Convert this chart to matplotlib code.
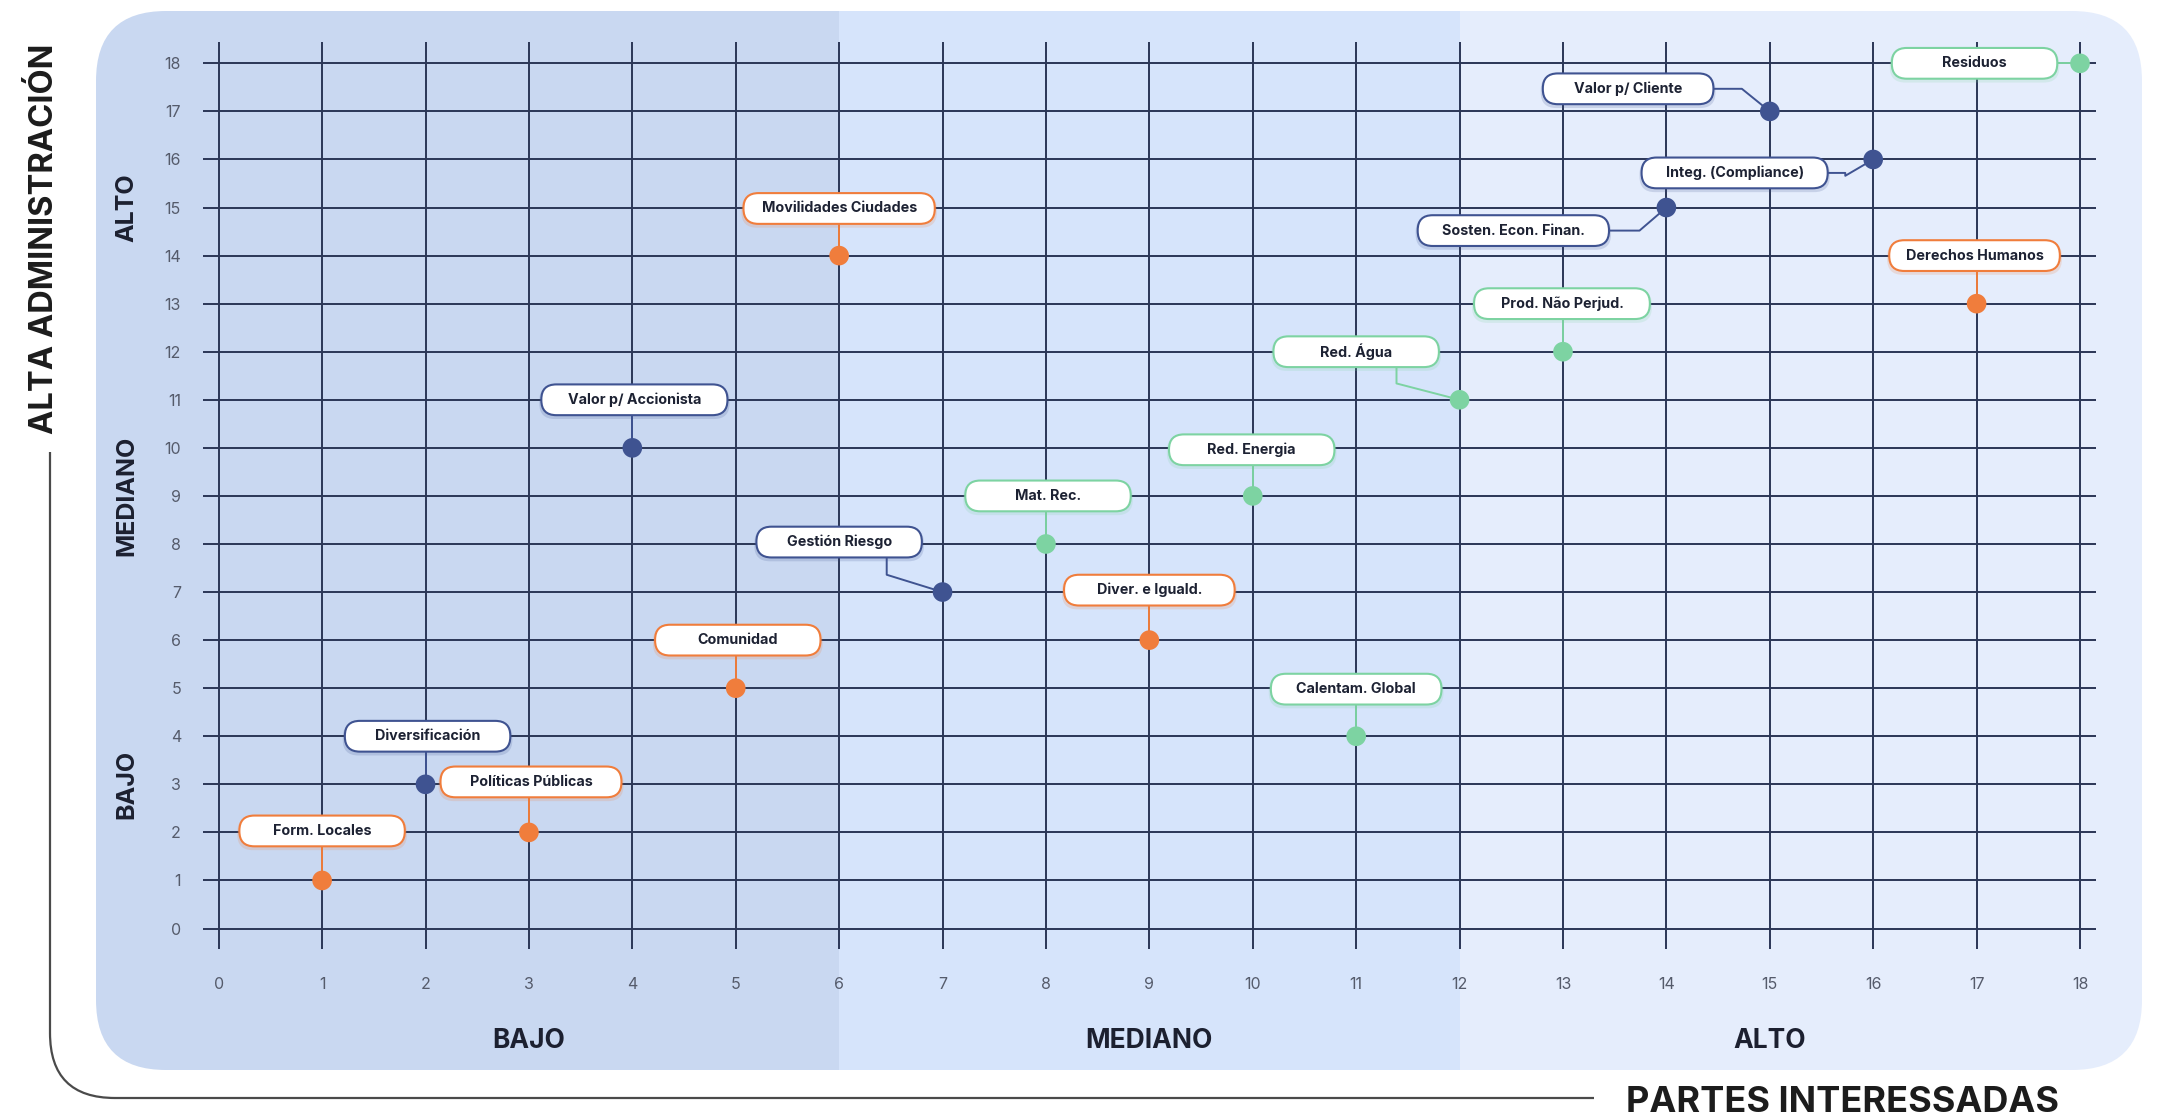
import matplotlib
matplotlib.use("Agg")
import matplotlib.pyplot as plt
from matplotlib.patches import FancyBboxPatch, Rectangle, PathPatch
from matplotlib.path import Path
from matplotlib import transforms

plt.rcParams['font.family'] = ['Inter', 'DejaVu Sans']

# temas materiales: (partes interesadas, alta administracion)
temas = ["Form. Locales", "Políticas Públicas", "Comunidad", "Movilidades Ciudades",
         "Diver. e Iguald.", "Derechos Humanos",
         "Diversificación", "Valor p/ Accionista", "Gestión Riesgo", "Sosten. Econ. Finan.",
         "Integ. (Compliance)", "Valor p/ Cliente",
         "Mat. Rec.", "Red. Energia", "Calentam. Global", "Red. Água", "Prod. Não Perjud.",
         "Residuos"]
partes = [1, 3, 5, 6, 9, 17, 2, 4, 7, 14, 16, 15, 8, 10, 11, 12, 13, 18]
alta = [1, 2, 5, 14, 6, 13, 3, 10, 7, 15, 16, 17, 8, 9, 4, 11, 12, 18]
grupo = ["social"] * 6 + ["gobernanza"] * 6 + ["ambiental"] * 6

# where each label box sits and the bend of its connector (None = straight)
etiqueta_x = [1, 3.02, 5.02, 6, 9, 16.98, 2.02, 4.02, 6, 12.52, 14.66, 13.63,
              8.02, 9.99, 11, 11, 12.99, 16.98]
etiqueta_y = [2.03, 3.05, 6, 14.98, 7.04, 14, 4, 11, 8.04, 14.52, 15.72, 17.47,
              9, 9.96, 4.98, 12, 13, 18]
codo_x = [None, None, None, None, None, None, None, None, 6.46, 13.74, 15.73, 14.73,
          None, None, None, 11.39, None, None]
codo_y = [None, None, None, None, None, None, None, None, 7.36, 14.52, 15.66, 17.47,
          None, None, None, 11.34, None, None]

ticks = list(range(19))
zonas = ["BAJO", "MEDIANO", "ALTO"]
zona_limites = [0, 6, 12, 18]

colores = {"social": "#f07d3c", "gobernanza": "#3f5391", "ambiental": "#7dd3a2"}
zona_colores = ["#c9d8f1", "#d6e4fb", "#e5edfc"]

W, H = 2157, 1118
fig = plt.figure(figsize=(W / 100, H / 100), dpi=100)

# background layer in pixel coordinates
ax_bg = fig.add_axes([0, 0, 1, 1])
ax_bg.set_xlim(0, W)
ax_bg.set_ylim(H, 0)
ax_bg.axis("off")

ax = fig.add_axes([0.0942, 0.1510, 0.8773, 0.8117])
ax.set_xlim(-0.15, 18.15)
ax.set_ylim(-0.43, 18.45)
ax.set_facecolor("none")
for s in ax.spines.values():
    s.set_visible(False)

panel = FancyBboxPatch((96, 11), 2046, 1059, boxstyle="round,pad=0,rounding_size=70",
                       facecolor="none", edgecolor="none")
ax_bg.add_patch(panel)

mix = transforms.blended_transform_factory(ax.transData, ax_bg.transData)
bordes = [-30, 6, 12, 40]
for i, c in enumerate(zona_colores):
    r = Rectangle((bordes[i], 0), bordes[i + 1] - bordes[i], H, transform=mix,
                  facecolor=c, edgecolor="none", zorder=0)
    ax_bg.add_patch(r)
    r.set_clip_path(panel)

# bracket line for the two axes titles
vx, hy, rad = 50, 1098, 65
bracket = Path([(vx, 452), (vx, hy - rad), (vx, hy), (vx + rad, hy), (1594, hy)],
               [Path.MOVETO, Path.LINETO, Path.CURVE3, Path.CURVE3, Path.LINETO])
ax_bg.add_patch(PathPatch(bracket, facecolor="none", edgecolor="#4a4a4a", lw=1.6))
ax_bg.text(45, 239, "ALTA ADMINISTRACIÓN", rotation=90, ha="center", va="center",
           fontsize=23.5, fontweight="bold", color="#1c1c1c")
ax_bg.text(1842, 1103, "PARTES INTERESSADAS", ha="center", va="center",
           fontsize=26, fontweight="bold", color="#1c1c1c")

# grid and ticks
ax.set_xticks(ticks)
ax.set_yticks(ticks)
ax.grid(True, color="#2a3656", lw=1.4)
ax.set_axisbelow(True)
ax.tick_params(length=0, labelsize=11.5, labelcolor="#555b6b", pad=16)
ax.tick_params(axis="x", pad=20)

for i, z in enumerate(zonas):
    mid = (zona_limites[i] + zona_limites[i + 1]) / 2
    ax.text(mid, -2.34, z, ha="center", va="center", fontsize=19, fontweight="bold",
            color="#1c2030", clip_on=False)
    ax.text(-0.89, mid, z, rotation=90, ha="center", va="center", fontsize=18,
            fontweight="bold", color="#1c2030", clip_on=False)

# pixel/data aspect, to keep box corners round
asp = (0.8773 * W / 18.3) / (0.8117 * H / 18.88)
alto_caja = 0.64

for i, t in enumerate(temas):
    col = colores[grupo[i]]
    px, py = partes[i], alta[i]
    lx, ly = etiqueta_x[i], etiqueta_y[i]
    ex = codo_x[i] if codo_x[i] is not None else px
    ey = codo_y[i] if codo_y[i] is not None else py
    ax.plot([lx, ex, ex, px], [ly, ly, ey, py], color=col, lw=1.4, zorder=3,
            solid_joinstyle="round")
    ancho = 1.6 if len(t) <= 15 else 1.6 + (len(t) - 15) * 0.05
    sombra = FancyBboxPatch((lx - ancho / 2 - 0.02, ly - alto_caja / 2 - 0.08), ancho + 0.04,
                            alto_caja + 0.06, boxstyle="round,pad=0,rounding_size=0.15",
                            mutation_aspect=asp, facecolor=col, edgecolor="none",
                            alpha=0.18, zorder=4)
    ax.add_patch(sombra)
    caja = FancyBboxPatch((lx - ancho / 2, ly - alto_caja / 2), ancho, alto_caja,
                          boxstyle="round,pad=0,rounding_size=0.145", mutation_aspect=asp,
                          facecolor="white", edgecolor=col, lw=1.5, zorder=5)
    ax.add_patch(caja)
    ax.text(lx, ly, t, ha="center", va="center", fontsize=10.3, fontweight="bold",
            color="#1d2233", zorder=6)

ax.scatter(partes, alta, s=200, c=[colores[g] for g in grupo], edgecolors="none", zorder=7,
           clip_on=False)

fig.savefig("out.png", dpi=100)
